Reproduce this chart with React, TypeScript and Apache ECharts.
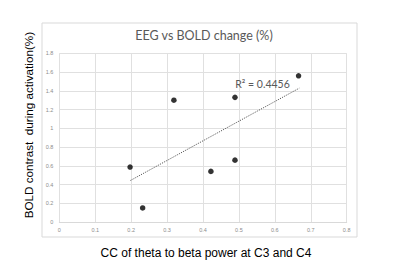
import React, { useEffect, useRef } from "react";
import * as echarts from "echarts";

const ccValues = [0.197, 0.232, 0.319, 0.422, 0.489, 0.489, 0.666];
const boldValues = [0.586, 0.15, 1.3, 0.54, 0.66, 1.33, 1.56];
const trendX = [0.198, 0.668];
const trendY = [0.443, 1.428];
const rSquaredText = "R² = 0.4456";
const titleText = "EEG vs BOLD change (%)";
const xName = "CC of theta to beta power at C3 and C4";
const yName = "BOLD contrast  during activation(%)";

export default function App() {
  const ref = useRef<HTMLDivElement>(null);
  useEffect(() => {
    if (!ref.current) return;
    const chart = echarts.init(ref.current, null, { renderer: "svg" });
    const pts = ccValues.map((x, i) => [x, boldValues[i]]);
    const trend = trendX.map((x, i) => [x, trendY[i]]);
    chart.setOption({
      animation: false,
      backgroundColor: "#ffffff",
      title: {
        text: titleText,
        left: 199,
        textAlign: "center",
        top: 24,
        textStyle: { fontFamily: "Lato", fontSize: 12.5, fontWeight: "normal", color: "#595959" },
      },
      graphic: [
        {
          type: "rect",
          shape: { x: 42, y: 23, width: 315, height: 214 },
          style: { fill: "none", stroke: "#d9d9d9", lineWidth: 1 },
          silent: true,
          z: -1,
        },
      ],
      grid: { left: 59.3, right: 53.3, top: 53.3, bottom: 52, containLabel: false },
      xAxis: {
        type: "value",
        min: 0,
        max: 0.8,
        interval: 0.1,
        name: xName,
        nameLocation: "middle",
        nameGap: 25,
        nameTextStyle: { fontFamily: "Liberation Sans", fontSize: 12, color: "#000", padding: [0, 0, 0, 6] },
        axisLine: { show: true, lineStyle: { color: "#d9d9d9" } },
        axisTick: { show: false },
        splitLine: { show: true, lineStyle: { color: "#e0e0e0", width: 1 } },
        axisLabel: { fontSize: 5.5, color: "#8c8c8c", margin: 5, fontFamily: "Liberation Sans" },
      },
      yAxis: {
        type: "value",
        min: 0,
        max: 1.8,
        interval: 0.2,
        name: yName,
        nameLocation: "middle",
        nameGap: 22,
        nameTextStyle: { fontFamily: "Liberation Sans", fontSize: 11.7, color: "#000", padding: [0, 0, 0, 25] },
        axisLine: { show: false },
        axisTick: { show: false },
        splitLine: { show: true, lineStyle: { color: "#e0e0e0", width: 1 } },
        axisLabel: {
          fontSize: 5.5,
          color: "#8c8c8c",
          margin: 6,
          fontFamily: "Liberation Sans",
          formatter: (v: number) => String(Math.round(v * 10) / 10),
        },
      },
      series: [
        {
          type: "line",
          data: trend,
          symbol: "none",
          lineStyle: { color: "#595959", width: 1, type: [1.2, 1.2] },
          label: { show: false },
          endLabel: {
            show: true,
            formatter: rSquaredText,
            fontFamily: "Lato",
            fontSize: 10.5,
            color: "#595959",
            offset: [-72, -4],
          },
          z: 2,
        },
        {
          type: "scatter",
          data: pts,
          symbol: "circle",
          symbolSize: 5.5,
          itemStyle: { color: "#000" },
          z: 3,
        },
      ],
    });
    return () => chart.dispose();
  }, []);
  return (
    <div
      ref={ref}
      style={{ position: "absolute", left: 0, top: 0, width: 400, height: 274 }}
    />
  );
}
